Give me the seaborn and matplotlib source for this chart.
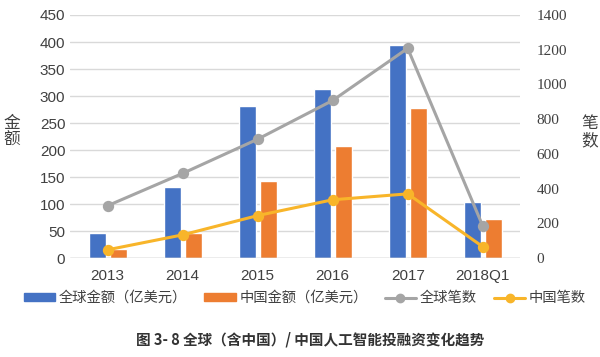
import matplotlib
matplotlib.use("Agg")
import matplotlib.pyplot as plt
from matplotlib.lines import Line2D
from matplotlib.patches import Patch
import pandas as pd
import seaborn as sns

# ── data ──────────────────────────────────────────────────────────────
years = ["2013", "2014", "2015", "2016", "2017", "2018Q1"]
global_amount = [46, 132, 281, 313, 395, 103]      # 亿美元
china_amount = [17, 46, 143, 208, 277, 72]         # 亿美元
global_count = [302, 488, 685, 908, 1208, 186]     # 笔
china_count = [48, 134, 245, 336, 370, 66]         # 笔

amount_names = ["全球金额（亿美元）", "中国金额（亿美元）"]
count_names = ["全球笔数", "中国笔数"]
left_ticks = [0, 50, 100, 150, 200, 250, 300, 350, 400, 450]
right_ticks = [0, 200, 400, 600, 800, 1000, 1200, 1400]
caption = "图 3- 8 全球（含中国）/ 中国人工智能投融资变化趋势"

bar_colors = ["#4472C4", "#ED7D31"]
line_colors = ["#A5A5A5", "#F8B52A"]

bars = pd.DataFrame({
    "year": years * 2,
    "amount": global_amount + china_amount,
    "series": [amount_names[0]] * len(years) + [amount_names[1]] * len(years),
})
lines = pd.DataFrame({
    "year": years * 2,
    "count": global_count + china_count,
    "series": [count_names[0]] * len(years) + [count_names[1]] * len(years),
})

sns.set_style("white")
plt.rcParams["font.family"] = ["Noto Sans CJK SC", "DejaVu Sans"]

fig = plt.figure(figsize=(6, 3.57), dpi=100)
ax = fig.add_axes([0.117, 0.277, 0.75, 0.681])

sns.barplot(data=bars, x="year", y="amount", hue="series",
            palette=bar_colors, width=0.56, gap=0.19, ax=ax,
            legend=False, saturation=1)
ax.set_ylim(0, 450)
ax.set_xlim(-0.5, 5.5)
ax.set_yticks(left_ticks)
ax.yaxis.grid(True, color="#D9D9D9", linewidth=1)
ax.set_axisbelow(True)
ax.set_xlabel("")
ax.set_ylabel("")
ax.tick_params(axis="both", length=0, labelsize=11, colors="#404040")
ax.tick_params(axis="x", pad=8)
for s in ax.spines.values():
    s.set_visible(False)
ax.axhline(0, color="#BFBFBF", linewidth=1)

ax2 = ax.twinx()
sns.pointplot(data=lines, x="year", y="count", hue="series",
              palette=line_colors, markers="o", linewidth=2.2,
              markersize=6.5, ax=ax2, legend=False)
ax2.set_ylim(0, 1400)
ax2.set_xlim(-0.5, 5.5)
ax2.set_yticks(right_ticks)
ax2.set_ylabel("")
ax2.set_xlabel("")
ax2.xaxis.set_visible(False)
ax2.tick_params(axis="y", length=0, labelsize=11, colors="#404040", pad=12)
for s in ax2.spines.values():
    s.set_visible(False)

# fonts of tick labels: sans on the left / bottom, serif on the right
ax.tick_params(axis="both", labelfontfamily="Liberation Sans")
ax2.tick_params(axis="y", labelfontfamily="Liberation Serif")

fig.text(0.02, 0.63, "金\n额", fontsize=12, color="#404040",
         ha="center", va="center", linespacing=1.0)
fig.text(0.983, 0.63, "笔\n数", fontsize=12, color="#404040",
         ha="center", va="center", linespacing=1.0)

handles = [Patch(color=bar_colors[0]), Patch(color=bar_colors[1]),
           Line2D([], [], color=line_colors[0], lw=2.2, marker="o", ms=6),
           Line2D([], [], color=line_colors[1], lw=2.2, marker="o", ms=6)]
fig.legend(handles, amount_names + count_names, loc="center",
           bbox_to_anchor=(0.508, 0.165), ncol=4, frameon=False,
           fontsize=10.3, handlelength=2.2, handleheight=0.5,
           columnspacing=1.2, handletextpad=0.25, labelcolor="#404040")

fig.text(0.517, 0.048, caption, fontsize=10.5, fontweight="bold",
         color="#333333", ha="center", va="center")

fig.savefig("out.png", dpi=100)
